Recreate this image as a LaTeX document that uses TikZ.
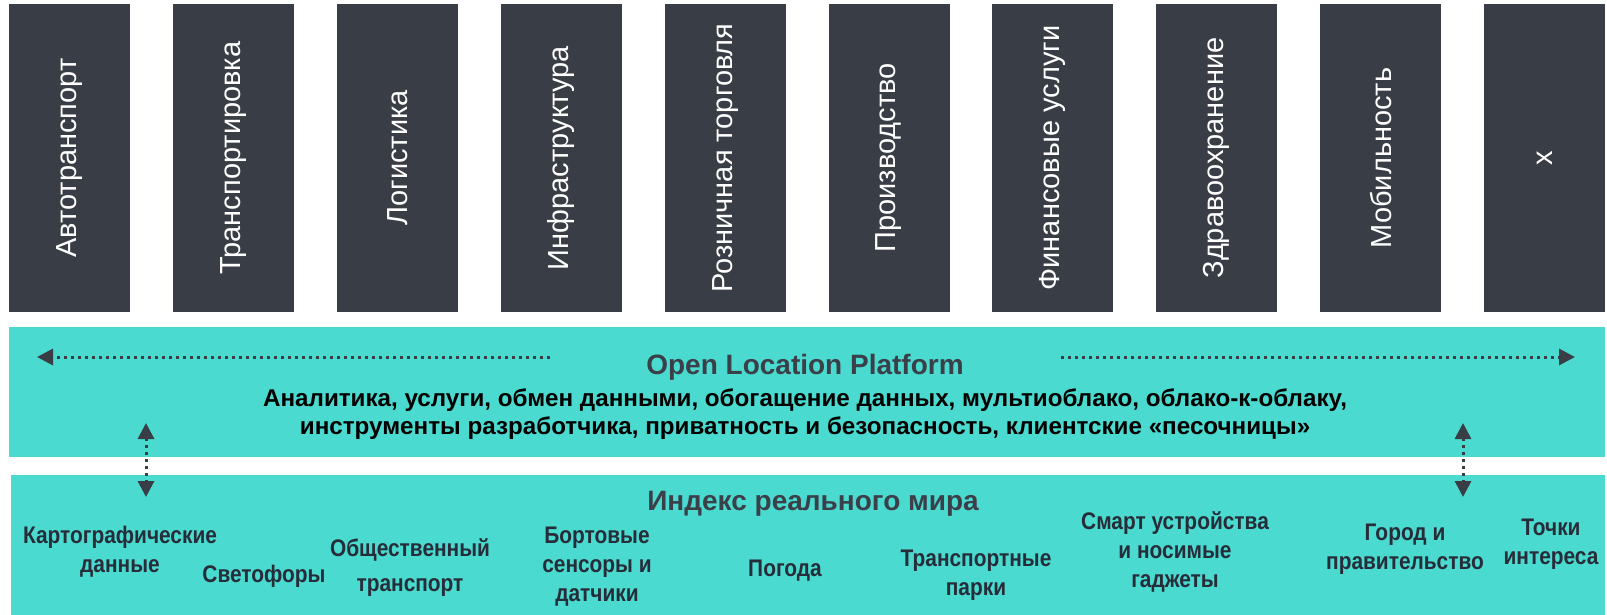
\documentclass[tikz,border=0pt]{standalone}
\usepackage{fontspec}
\setmainfont{Liberation Sans}
\newfontfamily\narrowfont[FakeStretch=0.87]{Liberation Sans}
\usepackage{xcolor}
\usetikzlibrary{arrows.meta}
\definecolor{sectorgray}{HTML}{393D46}
\definecolor{layerteal}{HTML}{4ADAD0}
\definecolor{headergray}{HTML}{3B3F48}
\definecolor{itemgray}{HTML}{262C38}
\tikzset{
    >={Triangle[length=8pt,width=8pt]},
    sector/.style={
        fill=sectorgray,
        text=white,
        rotate=90,
        minimum width=154pt,
        minimum height=60.5pt,
        inner sep=0pt,
        font=\fontsize{14.5}{17}\selectfont
    },
    layer/.style={
        fill=layerteal,
        minimum width=798pt,
        minimum height=65pt,
        inner sep=0pt
    },
    layerheader/.style={
        text=headergray,
        inner sep=0pt,
        font=\fontsize{14}{17}\selectfont\bfseries
    },
    layerline/.style={
        align=center,
        inner sep=0pt,
        font=\fontsize{12.1}{14}\selectfont\bfseries
    },
    layeritem/.style={
        align=center,
        text=itemgray,
        inner sep=0pt,
        font=\narrowfont\fontsize{12}{14.5}\selectfont\bfseries
    },
    link/.style={
        draw=sectorgray,
        line width=1.5pt,
        dash pattern=on 1.5pt off 2pt
    }
}
\begin{document}
\begin{tikzpicture}[x=0.5pt,y=-0.5pt]

    \useasboundingbox (0,0) rectangle (1607,615);

    %% Sectors
    \node (S1) [sector] at (69.5,158) {Автотранспорт};
    \node (S2) [sector] at (233.4,158) {Транспортировка};
    \node (S3) [sector] at (397.3,158) {Логистика};
    \node (S4) [sector] at (561.2,158) {Инфраструктура};
    \node (S5) [sector] at (725.1,158) {Розничная торговля};
    \node (S6) [sector] at (889.0,158) {Производство};
    \node (S7) [sector] at (1052.9,158) {Финансовые услуги};
    \node (S8) [sector] at (1216.8,158) {Здравоохранение};
    \node (S9) [sector] at (1380.7,158) {Мобильность};
    \node (S10) [sector] at (1544.6,158) {x};

    %% Platform layer
    \node (L1) [layer] at (807,392) {};
    \node (L1head) [layerheader] at (805,367) {Open Location Platform};
    \node (L1text) [layerline] at (805,414) {Аналитика, услуги, обмен данными, обогащение данных, мультиоблако, облако-к-облаку,\\
    инструменты разработчика, приватность и безопасность, клиентские «песочницы»};

    \coordinate (leftA) at (550,357);
    \coordinate (leftB) at (37,357);
    \coordinate (rightA) at (1061,357);
    \coordinate (rightB) at (1575,357);
    \draw[link,->] (leftA) -- (leftB);
    \draw[link,->] (rightA) -- (rightB);

    %% Real world index layer
    \node (L2) [layer,minimum width=797pt,minimum height=70pt] at (808,544.5) {};
    \node (L2head) [layerheader] at (813,504) {Индекс реального мира};

    \node (I1) [layeritem] at (120,551.5) {Картографические\\данные};
    \node (I2) [layeritem] at (264,576) {Светофоры};
    \node (I3) [layeritem] at (410,567.5) {Общественный\\[3pt]транспорт};
    \node (I4) [layeritem] at (597,567) {Бортовые\\сенсоры и\\датчики};
    \node (I5) [layeritem] at (785,571) {Погода};
    \node (I6) [layeritem] at (976,575) {Транспортные\\парки};
    \node (I7) [layeritem] at (1175,552) {Смарт устройства\\и носимые\\гаджеты};
    \node (I8) [layeritem] at (1405,549.5) {Город и\\правительство};
    \node (I9) [layeritem] at (1551,544.5) {Точки\\интереса};

    %% Links between layers
    \coordinate (upL) at (146,423);
    \coordinate (downL) at (146,497);
    \coordinate (upR) at (1463,423);
    \coordinate (downR) at (1463,497);
    \draw[link,<->] (upL) -- (downL);
    \draw[link,<->] (upR) -- (downR);

\end{tikzpicture}
\end{document}
